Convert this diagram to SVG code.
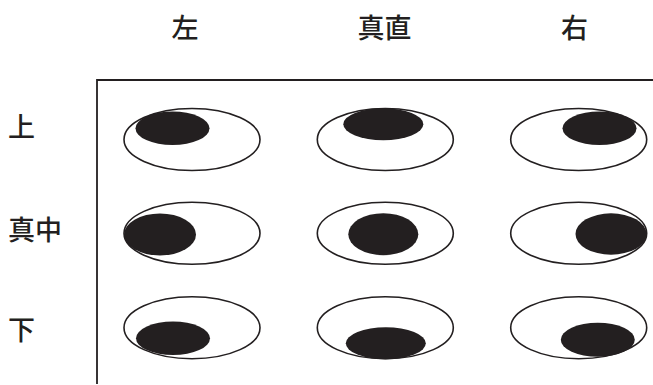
<svg xmlns="http://www.w3.org/2000/svg" width="653" height="385" viewBox="0 0 653 385">
<style>
.lbl{font-family:"Noto Sans CJK JP","Noto Sans CJK SC",sans-serif;font-size:27px;font-weight:500;fill:#231f20}
.eye{fill:#fff;stroke:#231f20;stroke-width:1.6}
.pupil{fill:#231f20}
.frame{fill:none;stroke:#231f20;stroke-width:1.8}
</style>
<rect width="653" height="385" fill="#fff"/>
<g id="frame"><path class="frame" d="M97 384 V80 H653"/></g>
<g id="headers">
<text class="lbl" x="185" y="38" text-anchor="middle">左</text>
<text class="lbl" x="384.5" y="38" text-anchor="middle">真直</text>
<text class="lbl" x="574.5" y="38" text-anchor="middle">右</text>
</g>
<g id="rows">
<text class="lbl" x="8" y="137">上</text>
<text class="lbl" x="8" y="240">真中</text>
<text class="lbl" x="8" y="340">下</text>
</g>
<g id="e11"><ellipse class="eye" cx="192" cy="139.5" rx="68" ry="31"/><ellipse class="pupil" cx="172.5" cy="128.3" rx="37" ry="16.7"/></g>
<g id="e12"><ellipse class="eye" cx="385.3" cy="139.5" rx="68" ry="31"/><ellipse class="pupil" cx="383.3" cy="124.2" rx="40" ry="16"/></g>
<g id="e13"><ellipse class="eye" cx="578.7" cy="139.5" rx="68" ry="31"/><ellipse class="pupil" cx="599.5" cy="128.3" rx="37" ry="16.7"/></g>
<g id="e21"><ellipse class="eye" cx="192" cy="233.3" rx="68" ry="31"/><ellipse class="pupil" cx="160" cy="234.5" rx="36" ry="21"/></g>
<g id="e22"><ellipse class="eye" cx="385.3" cy="233.3" rx="68" ry="31"/><ellipse class="pupil" cx="383.3" cy="234.2" rx="35" ry="21"/></g>
<g id="e23"><ellipse class="eye" cx="578.7" cy="233.3" rx="68" ry="31"/><ellipse class="pupil" cx="611" cy="234" rx="35.5" ry="20.7"/></g>
<g id="e31"><ellipse class="eye" cx="192" cy="327.7" rx="68" ry="31"/><ellipse class="pupil" cx="173" cy="338.3" rx="37" ry="16.7"/></g>
<g id="e32"><ellipse class="eye" cx="385.3" cy="327.7" rx="68" ry="31"/><ellipse class="pupil" cx="385.8" cy="343.3" rx="40" ry="16"/></g>
<g id="e33"><ellipse class="eye" cx="578.7" cy="327.7" rx="68" ry="31"/><ellipse class="pupil" cx="597.8" cy="339.7" rx="37" ry="17"/></g>
</svg>
